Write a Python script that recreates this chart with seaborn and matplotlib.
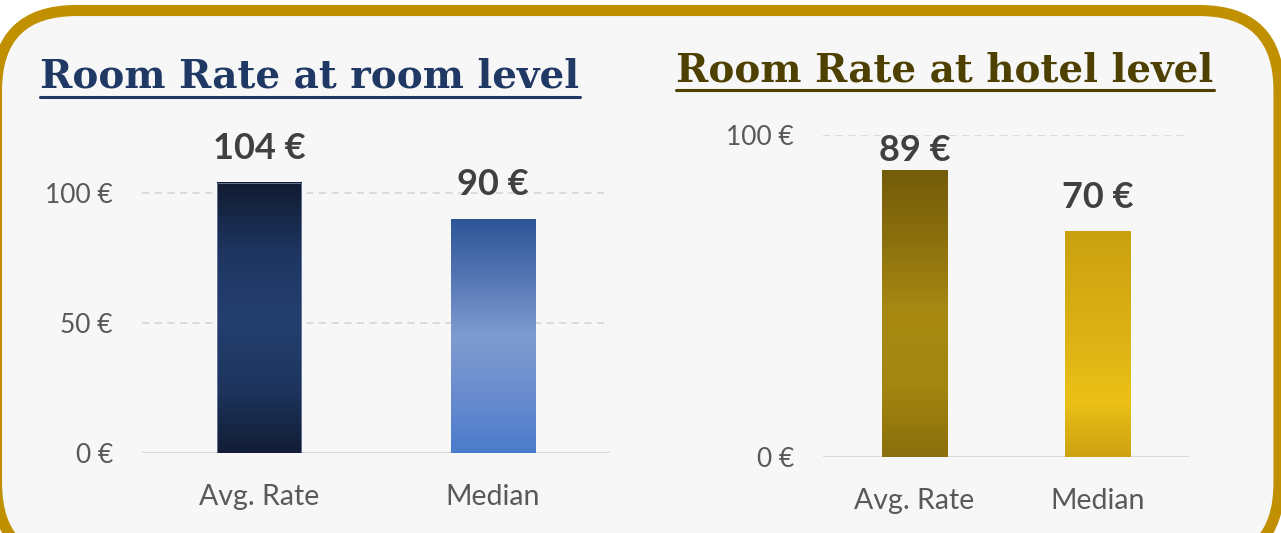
import numpy as np
import pandas as pd
import matplotlib
matplotlib.use("Agg")
import matplotlib.pyplot as plt
from matplotlib.colors import LinearSegmentedColormap
from matplotlib.patches import FancyBboxPatch
from matplotlib.lines import Line2D
import seaborn as sns

# data
categories = ["Avg. Rate", "Median"]
room_level = [104, 90]
hotel_level = [89, 70]

# gradient stops (top -> bottom) for each bar
room_grad = [["#111B31", "#1E3560", "#243F6F", "#1E365F", "#121D36"],
             ["#2E5597", "#5576B4", "#7F9CD0", "#6A8CCF", "#4A7BCB"]]
hotel_grad = [["#735C0A", "#8C700E", "#A88A12", "#A38610", "#8A6F0C"],
              ["#C9A00F", "#D4AA13", "#DDB316", "#EBC117", "#CCA212"]]

sns.set_style("white")
plt.rcParams["font.family"] = ["Lato", "DejaVu Sans"]

W, H = 1281, 533
fig = plt.figure(figsize=(W / 100, H / 100), dpi=100)
fig.patch.set_facecolor("white")

# rounded golden frame
frame = FancyBboxPatch((-0.035, -0.3), W / 100 + 0.015, (H - 10.5) / 100 + 0.3,
                       boxstyle="round,pad=0,rounding_size=0.8",
                       transform=fig.dpi_scale_trans, facecolor="#F7F7F7",
                       edgecolor="#C09000", linewidth=8, zorder=-10)
fig.patches.append(frame)


def px_axes(x0, x1, ytop, ybot):
    return fig.add_axes([x0 / W, 1 - ybot / H, (x1 - x0) / W, (ybot - ytop) / H])


def gradient_bars(ax, grads, edges):
    for patch, stops, ec in zip(ax.patches, grads, edges):
        x, w, h = patch.get_x(), patch.get_width(), patch.get_height()
        cmap = LinearSegmentedColormap.from_list("g", stops[::-1])
        grad = np.linspace(0, 1, 256).reshape(-1, 1)
        ax.imshow(grad, cmap=cmap, origin="lower", aspect="auto",
                  extent=[x, x + w, 0, h], zorder=2)
        patch.set_facecolor("none")
        patch.set_edgecolor(ec)
        patch.set_linewidth(0.6)
        patch.set_zorder(3)


def style_panel(ax, values, grads, edges, ylim, yticks, title, tcolor, title_xy, uline_y):
    df = pd.DataFrame({"cat": categories, "val": values})
    sns.barplot(data=df, x="cat", y="val", ax=ax, width=0.36, color="#333333", zorder=2)
    gradient_bars(ax, grads, edges)
    ax.set_xlim(-0.5, 1.5)
    ax.set_ylim(*ylim)
    ax.set_facecolor("none")
    ax.set_xlabel("")
    ax.set_ylabel("")
    ax.set_yticks(yticks)
    ax.set_yticklabels([f"{t} €" for t in yticks])
    for t in yticks:
        if t == 0:
            ax.axhline(0, color="#D9D9D9", lw=1.6, zorder=1)
        else:
            ax.axhline(t, color="#D9D9D9", lw=1.3, ls=(0, (4, 3)), zorder=1)
    for s in ax.spines.values():
        s.set_visible(False)
    ax.tick_params(axis="y", length=0, pad=21, labelsize=19, labelcolor="#595959")
    ax.tick_params(axis="x", length=0, pad=22, labelsize=20.5, labelcolor="#595959")

    # value labels above bars, kept inside the plot area top
    fig.canvas.draw()
    ax_top = ax.get_window_extent().y1
    for i, v in enumerate(values):
        lab = ax.annotate(f"{v} €", (i, v), xytext=(0, 13), textcoords="offset points",
                          ha="center", va="bottom", fontsize=26, fontweight="bold",
                          color="#404040", annotation_clip=False)
        fig.canvas.draw()
        bb = lab.get_window_extent()
        if bb.y1 > ax_top + 2:
            lab.remove()
            ax.annotate(f"{v} €", (i, ylim[1]), xytext=(0, 1), textcoords="offset points",
                        ha="center", va="top", fontsize=26, fontweight="bold",
                        color="#404040", annotation_clip=False)

    txt = fig.text(title_xy[0] / W, 1 - title_xy[1] / H, title, ha="center", va="center",
                   fontsize=28, fontweight="bold", color=tcolor,
                   family=["DejaVu Serif"])
    fig.canvas.draw()
    bb = txt.get_window_extent()
    fig.add_artist(Line2D([bb.x0 / W, bb.x1 / W], [1 - uline_y / H] * 2,
                          color=tcolor, lw=2.2))


ax1 = px_axes(142, 610, 128, 453)
style_panel(ax1, room_level, room_grad, ["#6F80A3", "none"], (0, 125), [0, 50, 100],
            "Room Rate at room level", "#1F3864", (310, 76), 97)

ax2 = px_axes(823, 1189, 135, 457)
style_panel(ax2, hotel_level, hotel_grad, ["none", "none"], (0, 100), [0, 100],
            "Room Rate at hotel level", "#4D4000", (945, 70), 90)

fig.savefig("out.png", dpi=100, facecolor=fig.get_facecolor())
